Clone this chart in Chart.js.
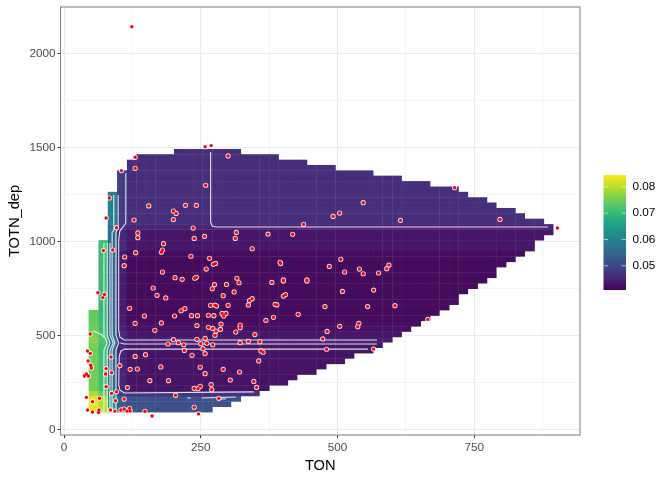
<!DOCTYPE html>
<html>
<head>
<meta charset="utf-8">
<style>
  html, body { margin: 0; padding: 0; background: #fff; }
  canvas { display: block; }
</style>
<script src="https://cdn.jsdelivr.net/npm/chart.js@4"></script>
</head>
<body>
<canvas id="chart" width="672" height="480"></canvas>
<script>
const xMajor = [0, 250, 500, 750];
const xMinor = [125, 375, 625, 875];
const yMajor = [0, 500, 1000, 1500, 2000];
const yMinor = [250, 750, 1250, 1750];
const legendTicks = [0.05, 0.06, 0.07, 0.08];
const legendRange = [0.0408, 0.0845];

const viridis = ['#440154', '#482576', '#414487', '#35608d', '#2a788e', '#21908d', '#22a884', '#43bf71', '#7ad151', '#bbdf27', '#fde725'];

// edges of the raster cells
const gridTon = [45, 63, 80, 97, 115, 132, 149, 167, 184, 201, 219, 236, 253, 271, 288, 305, 323, 340, 357, 375, 392, 409, 426, 444, 461, 479, 496, 513, 530, 548, 565, 582, 600, 617, 634, 652, 669, 686, 704, 721, 738, 756, 773, 790, 808, 825, 842, 860, 877, 894];
const gridDep = [93, 122, 150, 179, 207, 236, 264, 293, 322, 350, 379, 407, 436, 465, 493, 522, 550, 579, 607, 636, 665, 693, 722, 750, 779, 808, 836, 865, 893, 922, 950, 979, 1008, 1036, 1065, 1093, 1122, 1151, 1179, 1208, 1236, 1265, 1293, 1322, 1351, 1379, 1408, 1436, 1465, 1493];

// first and last column filled in each row, bottom row first
const rowStart = [0, 0, 0, 0, 0, 0, 0, 0, 0, 0, 0, 0, 0, 0, 0, 0, 0, 0, 0, 1, 1, 1, 1, 1, 1, 1, 1, 1, 1, 1, 1, 1, 2, 2, 2, 2, 2, 2, 2, 2, 2, 3, 3, 3, 3, 4, 4, 5, 9];
const rowEnd = [13, 15, 16, 18, 19, 21, 22, 24, 25, 27, 28, 30, 31, 32, 33, 34, 35, 36, 37, 38, 39, 39, 40, 41, 42, 43, 43, 44, 45, 46, 47, 47, 48, 49, 49, 48, 46, 45, 43, 42, 40, 39, 36, 33, 30, 26, 23, 20, 16];

const rowLevel = [0.0515, 0.0515, 0.0515, 0.047, 0.043, 0.043, 0.043, 0.043, 0.043, 0.043, 0.043, 0.043, 0.0435, 0.0445, 0.0435, 0.0425, 0.0425, 0.042, 0.042, 0.042, 0.042, 0.042, 0.042, 0.042, 0.042, 0.042, 0.042, 0.042, 0.042, 0.042, 0.0435, 0.0435, 0.0435, 0.0435, 0.045, 0.0465, 0.0465, 0.0465, 0.0465, 0.0465, 0.0465, 0.0465, 0.0465, 0.0465, 0.0465, 0.0465, 0.0465, 0.0465, 0.0465];
const columnLift = [0.032, 0.028, 0.013, 0.002, 0, 0, 0, 0, 0, 0, 0, 0, 0, 0, 0, 0, 0, 0, 0, 0, 0, 0, 0, 0, 0, 0, 0, 0, 0, 0, 0, 0, 0, 0, 0, 0, 0, 0, 0, 0, 0, 0, 0, 0, 0, 0, 0, 0, 0];

const pointTon = [258, 269, 300, 130, 130, 105, 259, 83, 155, 222, 242, 200, 205, 77, 128, 200, 96, 236, 135, 135, 238, 257, 182, 180, 178, 131, 72, 89, 111, 232, 266, 110, 273, 277, 260, 180, 203, 216, 239, 242,
  547, 504, 492, 438, 315, 313, 373, 418, 344, 395, 396, 506, 485, 513, 540, 547, 575, 590, 594, 316, 401, 444,
  714, 615, 797, 902, 605, 665,
  62, 74, 71, 163, 170, 186, 120, 147, 221, 214, 202, 233, 244, 264, 274, 275, 271, 297, 291, 268, 276, 279, 300, 289, 296, 292,
  130, 178, 243, 166, 264, 272, 287, 286, 278, 276, 48, 200, 190, 209, 219, 243, 258, 250, 261, 272, 254, 220, 258, 234, 130, 149, 86, 43, 48, 44, 49, 50, 102, 77, 87, 76, 41, 37, 45, 121, 134, 177, 249, 258, 291, 157, 191, 269, 77, 116, 238, 249, 245, 270, 96, 87, 41, 65, 52, 94, 110, 204, 283, 238, 43, 52, 64, 63, 85, 93, 104, 110, 115, 120, 121, 148, 161, 246,
  320, 380, 401, 444, 311, 344, 339, 337, 509, 566, 405, 401, 386, 389, 477, 555, 428, 383, 369, 322, 322, 314, 349, 481, 504, 539, 537, 473, 337, 358, 322, 480, 566, 360, 364, 356, 321, 304, 347, 352, 124];
const pointDep = [1505, 1511, 1456, 1449, 1390, 1378, 1300, 1232, 1190, 1193, 1193, 1163, 1150, 1126, 1115, 1117, 1074, 1072, 1046, 1021, 1017, 1028, 989, 955, 943, 941, 952, 955, 918, 922, 911, 872, 879, 884, 854, 838, 808, 799, 805, 810,
  1207, 1152, 1134, 1092, 1049, 1017, 1040, 1039, 962, 890, 883, 906, 868, 838, 854, 829, 833, 856, 875, 805, 796, 796,
  1287, 1113, 1118, 1072, 659, 586,
  728, 719, 702, 753, 714, 700, 645, 604, 643, 632, 604, 606, 606, 608, 606, 771, 749, 772, 712, 661, 662, 657, 661, 618, 618, 604,
  565, 567, 553, 528, 544, 538, 561, 533, 524, 501, 508, 478, 455, 462, 451, 480, 485, 457, 459, 451, 430, 421, 404, 395, 389, 398, 386, 418, 405, 365, 342, 327, 340, 324, 302, 295, 295, 285, 285, 320, 322, 333, 331, 297, 320, 260, 260, 239, 228, 223, 219, 230, 217, 212, 201, 192, 171, 166, 148, 153, 162, 182, 166, 118, 104, 93, 104, 90, 104, 98, 104, 109, 98, 113, 98, 97, 72, 83,
  781, 783, 790, 790, 732, 696, 686, 663, 735, 742, 718, 710, 666, 663, 654, 654, 613, 597, 581, 556, 542, 519, 505, 522, 549, 565, 547, 482, 469, 467, 462, 427, 428, 418, 411, 365, 306, 263, 256, 224, 2144];

// contour lines as [TON, TOTN_dep] pairs
const contourTopRight = [[268, 1477], [268, 1104], [271, 1083], [278, 1078], [885, 1078]];
const contourUpper = [[113, 1365], [113, 1099], [108, 1078], [102, 1056], [100, 1008], [100, 530], [102, 492], [110, 476], [572, 476]];
const contourMiddle = [[103, 460], [110, 455], [572, 455]];
const contourLower = [[556, 428], [111, 428], [104, 418], [101, 391], [100, 237], [102, 210], [110, 194], [347, 200]];
const contourBitA = [[225, 168], [232, 168]];
const contourBitB = [[252, 168], [314, 173]];
const contourBitC = [[285, 162], [296, 162]];
const contourBitD = [[53, 525], [69, 504], [73, 490]];
const contourWallA = [[73, 993], [73, 503], [79, 460], [73, 423], [73, 93]];
const contourWallB = [[79, 993], [79, 503], [84, 460], [79, 423], [79, 93]];
const contourWallC = [[84, 993], [84, 503], [90, 460], [84, 423], [84, 93]];
const contourWallD = [[91, 1248], [91, 1060], [88, 1051], [88, 503], [93, 460], [88, 423], [88, 93]];
const contourWallE = [[99, 1248], [99, 1080], [95, 1051], [95, 503], [100, 460], [95, 423], [95, 93]];

const contours = [contourTopRight, contourUpper, contourMiddle, contourLower, contourBitA, contourBitB, contourBitC, contourBitD, contourWallA, contourWallB, contourWallC, contourWallD, contourWallE];

const hexToRgb = (hex) => [1, 3, 5].map((i) => parseInt(hex.slice(i, i + 2), 16));

const zColor = (z) => {
    const t = Math.min(1, Math.max(0, (z - legendRange[0]) / (legendRange[1] - legendRange[0])));
    const pos = t * (viridis.length - 1);
    const low = Math.min(viridis.length - 2, Math.floor(pos));
    const a = hexToRgb(viridis[low]);
    const b = hexToRgb(viridis[low + 1]);
    const mix = a.map((v, i) => Math.round(v + (b[i] - v) * (pos - low)));
    return `rgb(${mix[0]},${mix[1]},${mix[2]})`;
};

const rasterPlugin = {
    id: 'raster',
    beforeDatasetsDraw(chart) {
        const { ctx, scales: { x, y } } = chart;
        ctx.save();
        rowLevel.forEach((level, row) => {
            const top = y.getPixelForValue(gridDep[row + 1]);
            const bottom = y.getPixelForValue(gridDep[row]);
            for (let col = rowStart[row]; col < rowEnd[row]; col++) {
                const left = x.getPixelForValue(gridTon[col]);
                const right = x.getPixelForValue(gridTon[col + 1]);
                ctx.fillStyle = zColor(level + columnLift[col]);
                ctx.fillRect(left, top, right - left + 0.4, bottom - top + 0.4);
            }
        });
        ctx.restore();
    }
};

const framePlugin = {
    id: 'frame',
    afterDatasetsDraw(chart) {
        const { ctx, chartArea: a } = chart;
        ctx.save();
        ctx.strokeStyle = '#7f7f7f';
        ctx.lineWidth = 1;
        ctx.strokeRect(a.left, a.top, a.right - a.left, a.bottom - a.top);
        ctx.restore();
    }
};

// colour bar on the right
const colorbarPlugin = {
    id: 'colorbar',
    afterDraw(chart) {
        const ctx = chart.ctx;
        const barLeft = 603.5, barRight = 626, barTop = 175, barBottom = 290;
        const valueY = (v) => barBottom - (v - legendRange[0]) / (legendRange[1] - legendRange[0]) * (barBottom - barTop);
        const gradient = ctx.createLinearGradient(0, barBottom, 0, barTop);
        viridis.forEach((c, i) => gradient.addColorStop(i / (viridis.length - 1), c));
        ctx.save();
        ctx.fillStyle = gradient;
        ctx.fillRect(barLeft, barTop, barRight - barLeft, barBottom - barTop);
        ctx.font = '11.73px "Liberation Sans"';
        ctx.textBaseline = 'middle';
        ctx.lineWidth = 0.6;
        legendTicks.forEach((v) => {
            const py = valueY(v);
            ctx.strokeStyle = '#fff';
            ctx.beginPath();
            ctx.moveTo(barLeft, py);
            ctx.lineTo(barLeft + 4.5, py);
            ctx.moveTo(barRight - 4.5, py);
            ctx.lineTo(barRight, py);
            ctx.stroke();
            ctx.fillStyle = '#000';
            ctx.fillText(v.toFixed(2), 632.5, py);
        });
        ctx.restore();
    }
};

const axisOptions = (major, minor, min, max, title, titlePadding, tickPadding) => ({
    type: 'linear',
    min: min,
    max: max,
    afterBuildTicks: (scale) => {
        scale.ticks = major.concat(minor).map((v) => ({ value: v }));
    },
    ticks: {
        autoSkip: false,
        maxRotation: 0,
        padding: tickPadding,
        color: '#4d4d4d',
        font: { family: 'Liberation Sans', size: 11.73 },
        callback: (v) => (major.includes(v) ? String(v) : '')
    },
    grid: {
        color: '#ebebeb',
        lineWidth: (c) => (c.tick && major.includes(c.tick.value) ? 1 : 0.5),
        tickLength: 3,
        tickColor: (c) => (c.tick && major.includes(c.tick.value) ? '#333333' : 'rgba(0,0,0,0)')
    },
    border: { display: false },
    title: {
        display: true,
        text: title,
        color: '#000',
        font: { family: 'Liberation Sans', size: 14.67 },
        padding: titlePadding
    }
});

const xAxis = axisOptions(xMajor, xMinor, -6.4, 943.3, 'TON', { top: 5, bottom: 5 }, 3);
xAxis.afterFit = (scale) => {
    scale.height = 45;
    scale.paddingLeft = 0;
    scale.paddingRight = 0;
};
const yAxis = axisOptions(yMajor, yMinor, -29.3, 2248.6, 'TOTN_dep', { top: 6, bottom: 6 }, 2);
yAxis.afterFit = (scale) => {
    scale.width = 60.5;
    scale.paddingTop = 0;
    scale.paddingBottom = 0;
};

const pairs = pointTon.map((t, i) => ({ x: t, y: pointDep[i] }));

const contourSets = contours.map((line) => ({
    type: 'scatter',
    data: line.map((p) => ({ x: p[0], y: p[1] })),
    showLine: true,
    borderColor: 'rgba(255,255,255,0.85)',
    borderWidth: 1.1,
    pointRadius: 0,
    order: 3
}));

new Chart(document.getElementById('chart').getContext('2d'), {
    type: 'scatter',
    data: {
        datasets: [
            { data: pairs, pointRadius: 1.7, pointBackgroundColor: '#ff0000', pointBorderWidth: 0, order: 1 },
            { data: pairs, pointRadius: 2.6, pointBackgroundColor: 'rgba(255,255,255,0.85)', pointBorderWidth: 0, order: 2 }
        ].concat(contourSets)
    },
    options: {
        responsive: false,
        devicePixelRatio: 1,
        animation: false,
        layout: { padding: { top: 7, right: 92, left: 0, bottom: 0 } },
        plugins: { legend: { display: false }, tooltip: { enabled: false } },
        scales: { x: xAxis, y: yAxis }
    },
    plugins: [rasterPlugin, framePlugin, colorbarPlugin]
});
</script>
</body>
</html>
